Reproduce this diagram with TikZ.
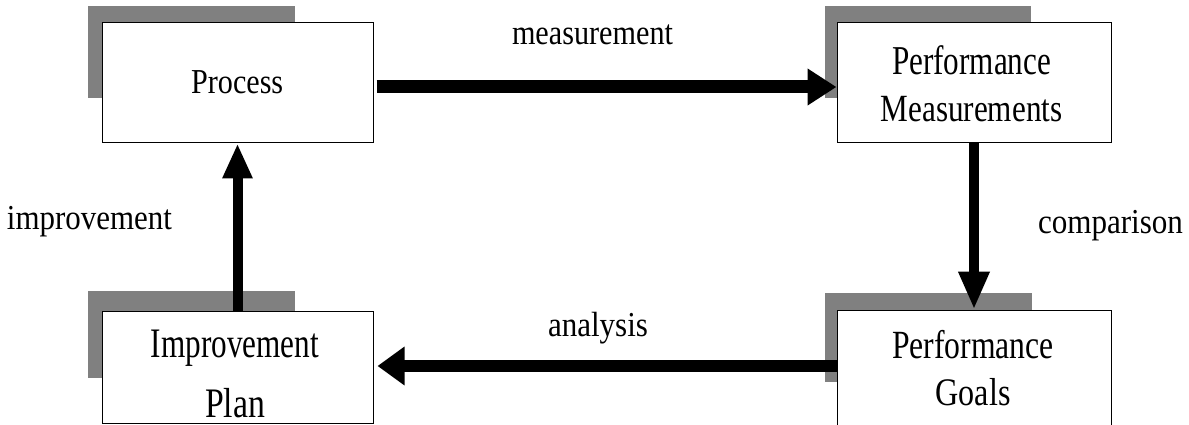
\documentclass[tikz,border=0pt]{standalone}
\usepackage{fontspec}
\usepackage{graphicx}
\setmainfont{Liberation Serif}
\usetikzlibrary{arrows.meta}
\definecolor{shadowgray}{HTML}{808080}
% word fitted to a given width at a given font size (x-scale only)
\newcommand{\fitword}[3]{\resizebox{#1pt}{\height}{\fontsize{#2}{#2}\selectfont #3}}
\tikzset{
  procbox/.style={draw=black, line width=1pt, fill=white, inner sep=0pt},
  boxtext/.style={inner sep=0pt, align=center, anchor=center},
  shadowbox/.style={fill=shadowgray, draw=none},
  bigarrow/.style={draw=black, line cap=butt},
  lbl/.style={anchor=base, inner sep=0pt}
}
\begin{document}
\begin{tikzpicture}[x=1pt,y=-1pt]
\useasboundingbox (0,0) rectangle (1189,425);
\clip (0,0) rectangle (1189,425);
% shadows
\fill[shadowbox] (88,6) rectangle (295,98);
\fill[shadowbox] (825,6) rectangle (1031,98);
\fill[shadowbox] (88,291) rectangle (295,378);
\fill[shadowbox] (825,293) rectangle (1032,382);
% boxes
\node[procbox, minimum width=271pt, minimum height=120pt] (proc) at (237.5,83) {};
\node[procbox, minimum width=274pt, minimum height=120pt] (pm) at (974,83) {};
\node[procbox, minimum width=271pt, minimum height=112pt] (ip) at (237.5,367) {};
\node[procbox, minimum width=274pt, minimum height=120pt] (pg) at (974,370) {};
% box texts
\node[boxtext, font=\fontsize{34}{40}\selectfont] (proctxt) at (237.2,82.2)
  {\fitword{92}{35}{Process}};
\node[boxtext, font=\fontsize{40}{46.7}\selectfont] (pmtxt) at (971.5,83.8)
  {\fitword{159}{41}{Performance}\\\fitword{181.7}{38.5}{Measurements}};
\node[boxtext, font=\fontsize{42}{60}\selectfont] (iptxt) at (235,374.2)
  {\fitword{168}{42}{Improvement}\\\fitword{60}{42}{Plan}};
\node[boxtext, font=\fontsize{40}{47.4}\selectfont] (pgtxt) at (973,368.2)
  {\fitword{161.7}{40}{Performance}\\\fitword{75}{39}{Goals}};
% arrows
\draw[bigarrow, line width=13pt, -{Triangle[width=35pt,length=29pt]}]
  ([xshift=3pt,yshift=-4pt]proc.east) -- ([yshift=-4pt]pm.west);
\draw[bigarrow, line width=10pt, -{Triangle[width=29pt,length=38pt]}]
  (pm.south) -- (pg.north);
\draw[bigarrow, line width=12pt, -{Triangle[width=37pt,length=27pt]}]
  ([yshift=4pt]pg.west) -- ([xshift=4pt,yshift=4pt]pg.west -| ip.east);
\draw[bigarrow, line width=10pt, -{Triangle[width=28pt,length=35pt]}]
  (ip.north) -- (proc.south);
% labels
\node[lbl] (lmeas) at (592.5,45) {\fitword{161}{35}{measurement}};
\node[lbl] (lcomp) at (1110.5,233) {\fitword{145}{35}{comparison}};
\node[lbl] (lanal) at (598,336) {\fitword{100}{35}{analysis}};
\node[lbl] (limpr) at (89.5,229) {\fitword{165}{35}{improvement}};
\end{tikzpicture}
\end{document}
